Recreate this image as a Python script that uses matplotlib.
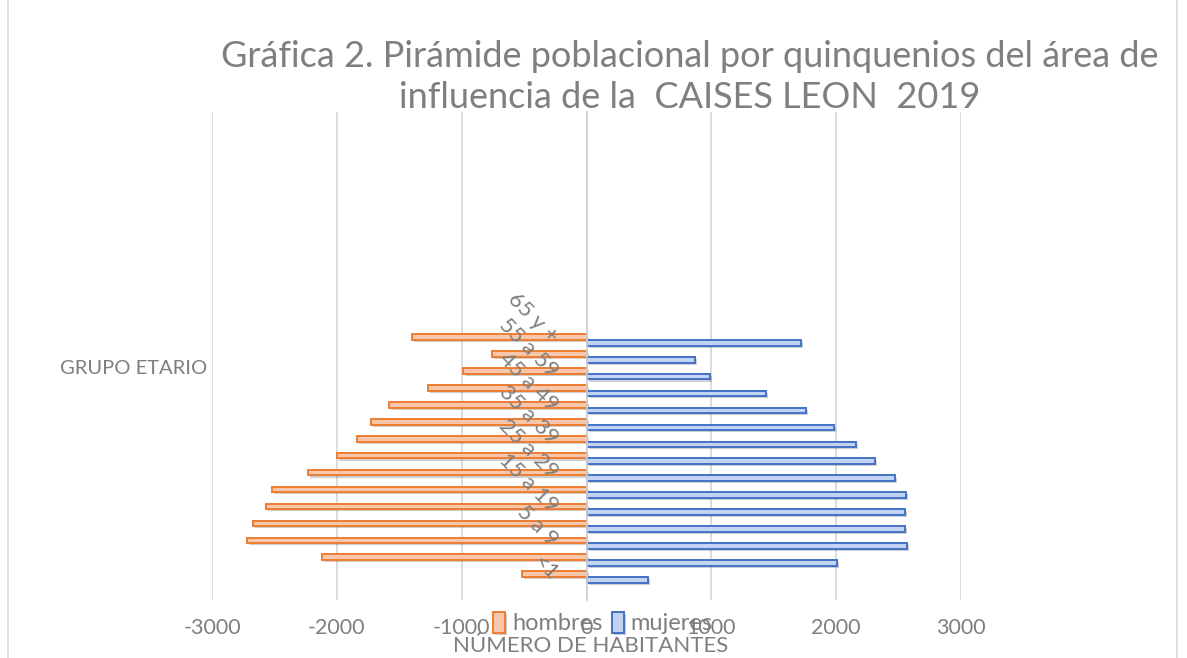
import matplotlib.pyplot as plt
import matplotlib.patheffects as pe
from matplotlib.patches import Rectangle
import numpy as np

plt.rcParams['font.family'] = ['Lato', 'DejaVu Sans']

# grupos de edad (de abajo hacia arriba)
grupos = ['<1', '1 a 4', '5 a 9', '10 a 14', '15 a 19', '20 a 24', '25 a 29',
          '30 a 34', '35 a 39', '40 a 44', '45 a 49', '50 a 54', '55 a 59',
          '60 a 64', '65 y +']
hombres = [520, 2120, 2720, 2670, 2570, 2520, 2230, 2000, 1840, 1730, 1580,
           1270, 990, 760, 1400]
mujeres = [490, 2010, 2570, 2550, 2550, 2560, 2470, 2310, 2160, 1980, 1760,
           1440, 990, 870, 1720]
xticks = [-3000, -2000, -1000, 0, 1000, 2000, 3000]

GRIS = '#7F7F7F'

fig = plt.figure(figsize=(11.87, 6.58), dpi=100)
ax = fig.add_axes([212 / 1187, 1 - 600 / 658, (961 - 212) / 1187, (600 - 112) / 658])

y = np.arange(len(grupos))
h = 0.33
sombra = [pe.SimplePatchShadow(offset=(1.5, -1.5), alpha=0.25), pe.Normal()]
ax.barh(y + h / 2, -np.array(hombres), height=h, color='#F8C6AA',
        edgecolor='#ED7D31', linewidth=1.4, label='hombres', zorder=2,
        path_effects=sombra)
ax.barh(y - h / 2, mujeres, height=h, color='#C3D3F3',
        edgecolor='#4472C4', linewidth=1.4, label='mujeres', zorder=2,
        path_effects=sombra)

ax.set_xlim(-3000, 3000)
ax.set_ylim(-1.36, 27.47)
ax.set_xticks(xticks)
ax.set_xticklabels([str(v) for v in xticks])
ax.tick_params(axis='x', length=0, pad=13, labelsize=15.5, labelcolor=GRIS)
ax.set_yticks([])
ax.grid(axis='x', color='#D9D9D9', linewidth=1.3, zorder=0)
ax.set_axisbelow(True)
for s in ['top', 'right', 'bottom']:
    ax.spines[s].set_visible(False)
ax.spines['left'].set_position(('data', 0))
ax.spines['left'].set_color('#D0D0D0')
ax.spines['left'].set_linewidth(1.3)

# etiquetas de los grupos (una sí, una no), giradas
for i in range(0, len(grupos), 2):
    ax.annotate(grupos[i], (0, i), xytext=(-32, 0), textcoords='offset pixels',
                rotation=-45, rotation_mode='anchor', ha='right', va='center',
                fontsize=16, color=GRIS, zorder=5)

fig.text(690 / 1187, 1 - 77 / 658,
         'Gráfica 2. Pirámide poblacional por quinquenios del área de\n'
         'influencia de la  CAISES LEON  2019',
         ha='center', va='center', fontsize=26, color=GRIS, linespacing=1.3)
fig.text(207 / 1187, 1 - 368 / 658, 'GRUPO ETARIO', ha='right', va='center',
         fontsize=14.5, color=GRIS)
fig.text(591 / 1187, 1 - 646 / 658, 'NÚMERO DE HABITANTES', ha='center',
         va='center', fontsize=16, color=GRIS)

fig.legend(loc='center', bbox_to_anchor=(603 / 1187, 1 - 623 / 658), ncol=2,
           frameon=False, fontsize=17, labelcolor=GRIS, handlelength=0.5,
           handleheight=1.0, handletextpad=0.3, columnspacing=0.4)

fig.patches.append(Rectangle((8 / 1187, -0.01), (1177 - 8) / 1187, 1.05,
                             transform=fig.transFigure, fill=False,
                             edgecolor='#D9D9D9', linewidth=1.2))

fig.savefig('out.png', dpi=100)
